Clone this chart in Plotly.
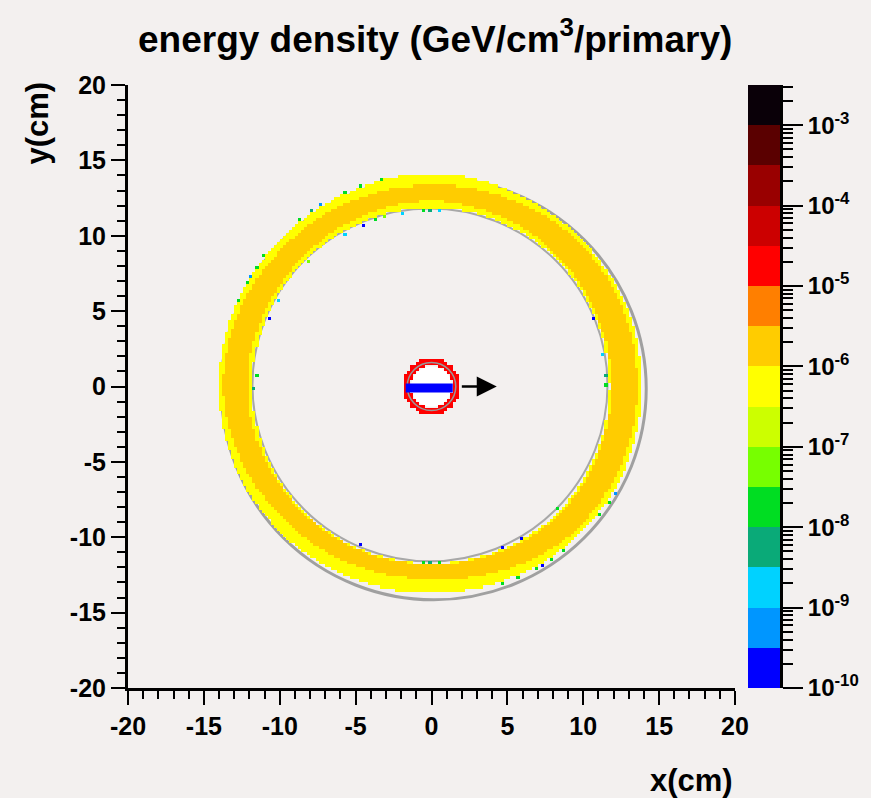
import numpy as np
import plotly.graph_objects as go

# ---------------- data ----------------
# colour bands (log10 of GeV/cm^3/primary), 15 bands of 0.5 decade
band_edges = [-10.0, -9.5, -9.0, -8.5, -8.0, -7.5, -7.0, -6.5, -6.0,
              -5.5, -5.0, -4.5, -4.0, -3.5, -3.0, -2.5]
band_colors = ["#0000FF", "#0096FF", "#00D2FF", "#0AAA78", "#00DD22",
               "#77FF00", "#CCFF00", "#FFFF00", "#FFCC00", "#FF7F00",
               "#FF0000", "#CC0000", "#990000", "#5A0000", "#0A0008"]
cbar_tick_exponents = [-10, -9, -8, -7, -6, -5, -4, -3]
axis_tick_values = [-20, -15, -10, -5, 0, 5, 10, 15, 20]
axis_tick_text = ["-20", "-15", "-10", "-5", "0", "5", "10", "15", "20"]

# ring radial profile versus azimuth (deg), radii in cm
ring_angles = [0, 45, 90, 135, 180, 225, 270, 315]
ring_inner_r = [11.7, 11.8, 11.9, 11.8, 11.8, 11.8, 11.75, 11.8]
gold_inner_r = [11.8, 12.0, 12.35, 12.05, 12.1, 11.9, 11.8, 11.95]
gold_outer_r = [13.55, 13.65, 13.35, 13.45, 13.75, 13.1, 12.75, 13.5]
ring_outer_r = [13.85, 13.9, 14.1, 13.95, 14.0, 13.9, 13.65, 13.85]
gold_level = -5.75     # log10 energy density, ring bulk
yellow_level = -6.2    # log10 energy density, ring edges

# small target ring in the centre
target_inner_r = 1.35
target_outer_r = 1.85
target_level = -4.75

# isolated low-density cells at the ring edges: angle (deg), radius (cm), log10 value
speck_angle = [103.4, 109.4, 113.7, 120.9, 123.9, 127.8, 141.8, 145.4, 148.5, 150.3,
               155.8, 329.3, 326.2, 322.7, 308.1, 304.0, 301.2, 299.2, 294.3, 290.2,
               113.2, 108.1, 119.6, 134.6, 150.0, 104.9, 99.4, 157.3, 23.2, 246.0,
               300.1, 315.7, 293.6, 176.6, 180.0, 3.4, 0.2, 10.8, 268.0, 270.0,
               272.0, 92.0, 90.0, 88.0]
speck_radius = [14.05, 14.05, 14.05, 14.05, 14.05, 14.05, 14.0, 14.0, 14.0, 14.0,
                14.0, 14.0, 14.0, 14.0, 13.95, 13.95, 13.95, 13.95, 13.9, 13.9,
                11.65, 11.65, 11.65, 11.65, 11.6, 11.7, 11.7, 11.6, 11.6, 11.6,
                11.65, 11.65, 11.65, 11.6, 11.6, 11.55, 11.55, 11.6, 11.65, 11.65,
                11.65, 11.75, 11.75, 11.75]
speck_level = [-7.8, -7.8, -7.8, -9.3, -8.3, -7.8, -7.8, -7.8, -9.3, -7.8,
               -7.8, -9.3, -7.8, -7.8, -7.8, -7.8, -9.8, -7.8, -7.8, -7.8,
               -9.8, -7.8, -8.8, -7.3, -8.8, -7.3, -8.8, -9.8, -9.8, -9.8,
               -9.8, -7.8, -9.8, -7.8, -8.3, -8.3, -7.8, -8.8, -7.8, -8.3,
               -7.8, -7.8, -8.3, -8.8]

# histogram binning (cm)
x_min, x_max, n_bins = -20.0, 20.0, 200

# overlay geometry (cm)
beam_x = [-1.7, 1.4]
beam_y = -0.1
arrow_tail = [1.9, 0.0]
arrow_head = [4.3, 0.0]

# ---------------- build histogram ----------------
edges = np.linspace(x_min, x_max, n_bins + 1)
centers = 0.5 * (edges[:-1] + edges[1:])
X, Y = np.meshgrid(centers, centers)
R = np.hypot(X, Y)
TH = np.degrees(np.arctan2(Y, X)) % 360.0

ang_p = np.array(ring_angles + [360])
def prof(vals):
    return np.interp(TH, ang_p, np.array(vals + [vals[0]]))

r_in, g_in, g_out, r_out = prof(ring_inner_r), prof(gold_inner_r), prof(gold_outer_r), prof(ring_outer_r)
Z = np.full(X.shape, np.nan)
Z[(R >= r_in) & (R < r_out)] = yellow_level
Z[(R >= g_in) & (R < g_out)] = gold_level
Z[(R >= target_inner_r) & (R < target_outer_r)] = target_level

step = (x_max - x_min) / n_bins
for a, r, v in zip(speck_angle, speck_radius, speck_level):
    px = r * np.cos(np.radians(a))
    py = r * np.sin(np.radians(a))
    i = int((py - x_min) // step)
    j = int((px - x_min) // step)
    if 0 <= i < n_bins and 0 <= j < n_bins:
        Z[i, j] = v

zmin, zmax = band_edges[0], band_edges[-1]
cs = []
for k, c in enumerate(band_colors):
    cs.append([(band_edges[k] - zmin) / (zmax - zmin), c])
    cs.append([(band_edges[k + 1] - zmin) / (zmax - zmin), c])

FONT = "Liberation Sans, Arial, sans-serif"
BG = "#F3F0EF"

fig = go.Figure()
fig.add_trace(go.Heatmap(x=centers, y=centers, z=Z, colorscale=cs, zmin=zmin, zmax=zmax,
                         showscale=False, hoverongaps=False, xgap=0, ygap=0))

# palette drawn as its own axis pair
band_centers = [0.5 * (band_edges[k] + band_edges[k + 1]) for k in range(len(band_colors))]
fig.add_trace(go.Heatmap(x=[0.5], y=band_centers, z=[[v] for v in band_centers],
                         colorscale=cs, zmin=zmin, zmax=zmax, showscale=False,
                         xaxis="x2", yaxis="y2"))

W, H = 871, 798
ml, mr, mt, mb = 128, 91, 85, 110
pw = W - ml - mr
ph = H - mt - mb
x_dom_end = (735 - ml) / pw
cb_start = (748 - ml) / pw

tickfont = dict(family=FONT, size=25, color="black", weight="bold")
axis_common = dict(showgrid=False, zeroline=False, showline=True, linecolor="black",
                   linewidth=3, ticks="outside", ticklen=14, tickwidth=2, tickcolor="black",
                   tickfont=tickfont, tickmode="array", tickvals=axis_tick_values,
                   ticktext=axis_tick_text,
                   minor=dict(dtick=1, tick0=0, ticks="outside", ticklen=8, tickwidth=2,
                              tickcolor="black"))

minor_vals = []
for e in range(-10, -2):
    for k in range(2, 10):
        v = np.log10(k) + e
        if v <= zmax:
            minor_vals.append(float(v))

fig.update_layout(
    width=W, height=H,
    margin=dict(l=ml, r=mr, t=mt, b=mb),
    paper_bgcolor=BG, plot_bgcolor=BG,
    showlegend=False,
    xaxis=dict(domain=[0, x_dom_end], range=[x_min, x_max], **axis_common),
    yaxis=dict(domain=[0, 1], range=[x_min, x_max], **axis_common),
    xaxis2=dict(domain=[cb_start, 1.0], range=[0, 1], anchor="y2", visible=False),
    yaxis2=dict(domain=[0, 1], range=[zmin, zmax], anchor="x2", side="right",
                showgrid=False, zeroline=False, showline=True, linecolor="black", linewidth=3,
                ticks="outside", ticklen=20, tickwidth=2, tickcolor="black",
                tickmode="array", tickvals=cbar_tick_exponents,
                ticktext=["10<sup>%d</sup>" % e for e in cbar_tick_exponents],
                tickfont=dict(family=FONT, size=24, color="black", weight="bold"),
                minor=dict(tickmode="array", tickvals=minor_vals, ticks="outside",
                           ticklen=10, tickwidth=2, tickcolor="black")),
)

# gray geometry outlines
fig.add_shape(type="circle", xref="x", yref="y", x0=0.15 - 14.0, x1=0.15 + 14.0,
              y0=-0.15 - 14.0, y1=-0.15 + 14.0, line=dict(color="#A0A0A0", width=3), layer="below")
fig.add_shape(type="circle", xref="x", yref="y", x0=-0.1 - 11.7, x1=-0.1 + 11.7,
              y0=0.1 - 11.7, y1=0.1 + 11.7, line=dict(color="#A8A8A8", width=2), layer="below")
# target: white interior and gray outline
fig.add_shape(type="circle", xref="x", yref="y", x0=-target_inner_r, x1=target_inner_r,
              y0=-target_inner_r, y1=target_inner_r, fillcolor="white",
              line=dict(color="white", width=0), layer="below")
fig.add_shape(type="circle", xref="x", yref="y", x0=-1.6, x1=1.6, y0=-1.6, y1=1.6,
              line=dict(color="#999999", width=1.5), layer="above")
# beam
fig.add_shape(type="line", xref="x", yref="y", x0=beam_x[0], x1=beam_x[1], y0=beam_y, y1=beam_y,
              line=dict(color="#0000FF", width=9), layer="above")
# arrow
fig.add_annotation(x=arrow_head[0], y=arrow_head[1], ax=arrow_tail[0], ay=arrow_tail[1],
                   xref="x", yref="y", axref="x", ayref="y", text="", showarrow=True,
                   arrowhead=2, arrowsize=1.6, arrowwidth=2.5, arrowcolor="black")

# titles
fig.add_annotation(text="energy density (GeV/cm<sup>3</sup>/primary)", xref="paper", yref="paper",
                   x=(435 - ml) / pw, y=1 + (mt - 37) / ph, xanchor="center", yanchor="middle",
                   showarrow=False, font=dict(family=FONT, size=37, color="black", weight="bold"))
fig.add_annotation(text="x(cm)", xref="paper", yref="paper",
                   x=x_dom_end, y=-(780 - 688) / ph, xanchor="right", yanchor="middle",
                   showarrow=False, font=dict(family=FONT, size=31, color="black", weight="bold"))
fig.add_annotation(text="y(cm)", xref="paper", yref="paper", textangle=-90,
                   x=(37 - ml) / pw, y=1 + (85 - 80) / ph, xanchor="center", yanchor="top",
                   showarrow=False, font=dict(family=FONT, size=31, color="black", weight="bold"))

fig.write_html("out.html", config={"displayModeBar": False},
               post_script="document.body.style.margin='0';document.body.style.padding='0';"
                           "document.body.style.background='%s';" % BG)
